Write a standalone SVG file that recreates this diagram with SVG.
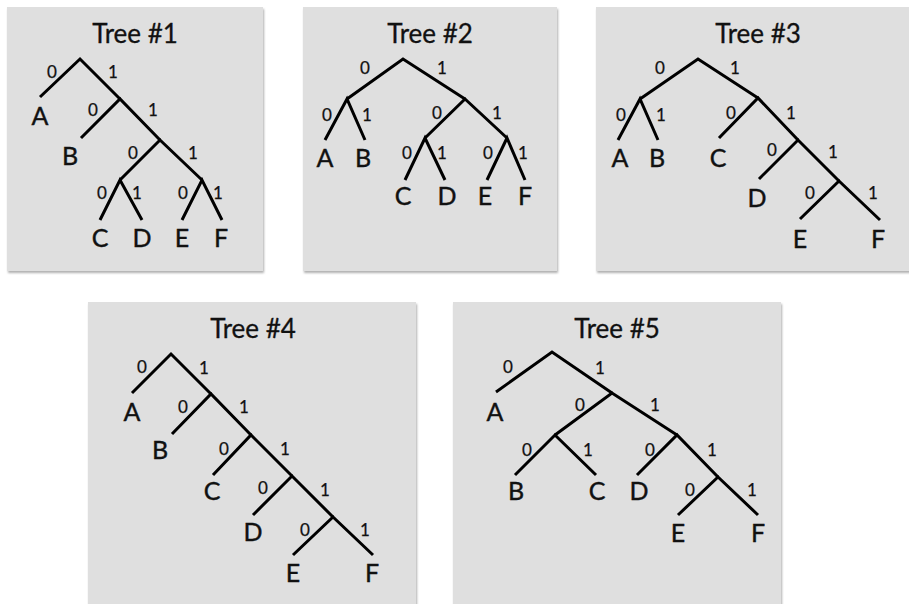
<svg xmlns="http://www.w3.org/2000/svg" width="909" height="604" viewBox="0 0 909 604">
<defs>
<filter id="sh" x="-5%" y="-5%" width="110%" height="110%">
<feGaussianBlur stdDeviation="1.2"/>
</filter>
</defs>
<style>
.panel{fill:#dfdfdf}
.shadow{fill:#b0b0b0}
.edge{stroke:#000;stroke-width:3;fill:none;stroke-linecap:butt;stroke-linejoin:miter}
.title{font-family:Lato,"Liberation Sans",sans-serif;font-size:26px;fill:#111;stroke:#111;stroke-width:0.3;text-anchor:middle}
.leaf{font-family:Lato,"Liberation Sans",sans-serif;font-size:25px;fill:#111;stroke:#111;stroke-width:0.4;text-anchor:middle}
.bit{font-family:Lato,"Liberation Sans",sans-serif;font-size:17px;fill:#111;stroke:#111;stroke-width:0.25;text-anchor:middle}
</style>
<rect width="909" height="604" fill="#fff"/>

<!-- Tree 1 -->
<g id="tree1">
<rect class="shadow" x="8" y="9" width="256" height="264" filter="url(#sh)"/>
<rect class="panel" x="7" y="7" width="256" height="264"/>
<text class="title" x="135" y="43">Tree #1</text>
<g id="t1-connectors">
<polyline class="edge" points="40,97 80,59 120,99"/>
<polyline class="edge" points="81,138 120,99 160,140"/>
<polyline class="edge" points="120,180 160,140 202,180"/>
<polyline class="edge" points="100,220 120,180 142,220"/>
<polyline class="edge" points="182,220 202,180 222,220"/>
<text class="bit" x="52" y="78">0</text><text class="bit" x="113" y="78">1</text>
<text class="bit" x="93" y="116">0</text><text class="bit" x="153" y="116">1</text>
<text class="bit" x="133" y="159">0</text><text class="bit" x="193" y="159">1</text>
<text class="bit" x="102" y="199">0</text><text class="bit" x="137" y="199">1</text>
<text class="bit" x="183" y="199">0</text><text class="bit" x="218" y="199">1</text>
</g>
<g id="t1-A"><text class="leaf" x="40" y="125">A</text></g>
<g id="t1-B"><text class="leaf" x="70" y="165">B</text></g>
<g id="t1-C"><text class="leaf" x="100" y="247">C</text></g>
<g id="t1-D"><text class="leaf" x="142" y="247">D</text></g>
<g id="t1-E"><text class="leaf" x="182" y="247">E</text></g>
<g id="t1-F"><text class="leaf" x="221" y="247">F</text></g>
</g>

<!-- Tree 2 -->
<g id="tree2">
<rect class="shadow" x="304" y="9" width="254" height="264" filter="url(#sh)"/>
<rect class="panel" x="303" y="7" width="254" height="264"/>
<text class="title" x="430" y="43">Tree #2</text>
<g id="t2-connectors">
<polyline class="edge" points="347,99 403,59 465,99"/>
<polyline class="edge" points="325,140 347,99 365,140"/>
<polyline class="edge" points="425,138 465,99 507,138"/>
<polyline class="edge" points="405,180 425,138 445,180"/>
<polyline class="edge" points="487,180 507,138 525,180"/>
<text class="bit" x="365" y="74">0</text><text class="bit" x="442" y="74">1</text>
<text class="bit" x="327" y="121">0</text><text class="bit" x="367" y="121">1</text>
<text class="bit" x="437" y="119">0</text><text class="bit" x="497" y="119">1</text>
<text class="bit" x="407" y="159">0</text><text class="bit" x="442" y="159">1</text>
<text class="bit" x="488" y="159">0</text><text class="bit" x="523" y="159">1</text>
</g>
<g id="t2-A"><text class="leaf" x="325" y="167">A</text></g>
<g id="t2-B"><text class="leaf" x="363" y="167">B</text></g>
<g id="t2-C"><text class="leaf" x="403" y="205">C</text></g>
<g id="t2-D"><text class="leaf" x="447" y="205">D</text></g>
<g id="t2-E"><text class="leaf" x="485" y="205">E</text></g>
<g id="t2-F"><text class="leaf" x="525" y="205">F</text></g>
</g>

<!-- Tree 3 -->
<g id="tree3">
<rect class="shadow" x="597" y="9" width="330" height="264" filter="url(#sh)"/>
<rect class="panel" x="596" y="7" width="330" height="264"/>
<text class="title" x="758" y="43">Tree #3</text>
<g id="t3-connectors">
<polyline class="edge" points="640,99 698,59 758,98"/>
<polyline class="edge" points="618,140 640,99 658,140"/>
<polyline class="edge" points="719,138 758,98 798,140"/>
<polyline class="edge" points="759,179 798,140 839,181"/>
<polyline class="edge" points="800,219 839,181 880,220"/>
<text class="bit" x="660" y="74">0</text><text class="bit" x="735" y="74">1</text>
<text class="bit" x="621" y="121">0</text><text class="bit" x="661" y="121">1</text>
<text class="bit" x="731" y="119">0</text><text class="bit" x="791" y="119">1</text>
<text class="bit" x="772" y="156">0</text><text class="bit" x="833" y="158">1</text>
<text class="bit" x="810" y="199">0</text><text class="bit" x="873" y="199">1</text>
</g>
<g id="t3-A"><text class="leaf" x="620" y="167">A</text></g>
<g id="t3-B"><text class="leaf" x="657" y="167">B</text></g>
<g id="t3-C"><text class="leaf" x="718" y="167">C</text></g>
<g id="t3-D"><text class="leaf" x="757" y="207">D</text></g>
<g id="t3-E"><text class="leaf" x="800" y="248">E</text></g>
<g id="t3-F"><text class="leaf" x="878" y="248">F</text></g>
</g>

<!-- Tree 4 -->
<g id="tree4">
<rect class="shadow" x="89" y="304" width="328" height="320" filter="url(#sh)"/>
<rect class="panel" x="88" y="302" width="328" height="320"/>
<text class="title" x="253" y="338">Tree #4</text>
<g id="t4-connectors">
<polyline class="edge" points="132,393 171,354 211,394"/>
<polyline class="edge" points="172,434 211,394 251,435"/>
<polyline class="edge" points="213,475 251,435 292,476"/>
<polyline class="edge" points="253,515 292,476 333,517"/>
<polyline class="edge" points="293,555 333,517 373,555"/>
<text class="bit" x="142" y="373">0</text><text class="bit" x="204" y="374">1</text>
<text class="bit" x="183" y="413">0</text><text class="bit" x="244" y="413">1</text>
<text class="bit" x="224" y="455">0</text><text class="bit" x="285" y="455">1</text>
<text class="bit" x="263" y="494">0</text><text class="bit" x="325" y="496">1</text>
<text class="bit" x="305" y="536">0</text><text class="bit" x="365" y="536">1</text>
</g>
<g id="t4-A"><text class="leaf" x="132" y="421">A</text></g>
<g id="t4-B"><text class="leaf" x="160" y="459">B</text></g>
<g id="t4-C"><text class="leaf" x="212" y="500">C</text></g>
<g id="t4-D"><text class="leaf" x="253" y="541">D</text></g>
<g id="t4-E"><text class="leaf" x="293" y="582">E</text></g>
<g id="t4-F"><text class="leaf" x="372" y="582">F</text></g>
</g>

<!-- Tree 5 -->
<g id="tree5">
<rect class="shadow" x="454" y="304" width="328" height="320" filter="url(#sh)"/>
<rect class="panel" x="453" y="302" width="328" height="320"/>
<text class="title" x="617" y="338">Tree #5</text>
<g id="t5-connectors">
<polyline class="edge" points="496,392 552,352 612,393"/>
<polyline class="edge" points="555,435 612,393 677,435"/>
<polyline class="edge" points="515,475 555,435 596,475"/>
<polyline class="edge" points="637,475 677,435 718,477"/>
<polyline class="edge" points="678,515 718,477 758,515"/>
<text class="bit" x="508" y="373">0</text><text class="bit" x="600" y="374">1</text>
<text class="bit" x="580" y="411">0</text><text class="bit" x="655" y="411">1</text>
<text class="bit" x="527" y="456">0</text><text class="bit" x="588" y="456">1</text>
<text class="bit" x="650" y="456">0</text><text class="bit" x="712" y="456">1</text>
<text class="bit" x="690" y="496">0</text><text class="bit" x="752" y="496">1</text>
</g>
<g id="t5-A"><text class="leaf" x="495" y="421">A</text></g>
<g id="t5-B"><text class="leaf" x="516" y="500">B</text></g>
<g id="t5-C"><text class="leaf" x="597" y="500">C</text></g>
<g id="t5-D"><text class="leaf" x="639" y="500">D</text></g>
<g id="t5-E"><text class="leaf" x="678" y="542">E</text></g>
<g id="t5-F"><text class="leaf" x="758" y="542">F</text></g>
</g>
</svg>
